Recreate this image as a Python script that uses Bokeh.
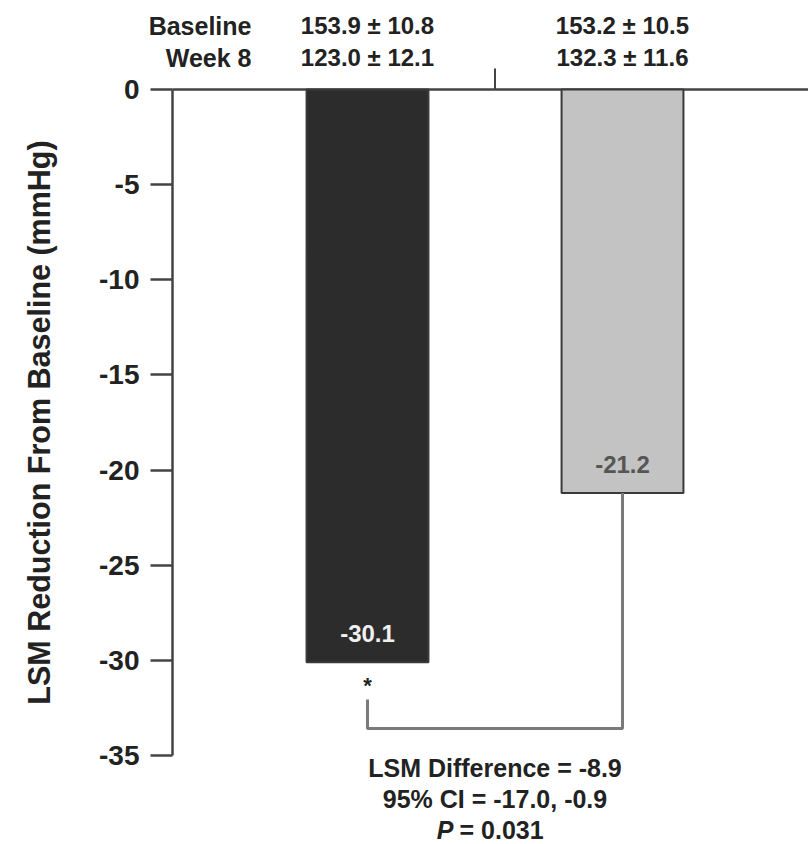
from bokeh.plotting import figure
from bokeh.models import Range1d, FixedTicker, ColumnDataSource, LinearAxis, CustomJSTickFormatter
from bokeh.core.properties import value
from bokeh.embed import file_html
from bokeh.resources import INLINE

# ---- data ----
groups = [1, 2]
changes = [-30.1, -21.2]
bar_colors = ["#2c2c2c", "#c3c3c3"]
label_colors = ["#f0f0f0", "#555555"]
baseline_vals = ["153.9 \u00b1 10.8", "153.2 \u00b1 10.5"]
week8_vals = ["123.0 \u00b1 12.1", "132.3 \u00b1 11.6"]
row_labels = ["Baseline", "Week 8"]
y_ticks = [0, -5, -10, -15, -20, -25, -30, -35]
diff_lines = ["LSM Difference = -8.9", "95% CI = -17.0, -0.9"]
p_value = "0.031"

FONT = value("Liberation Sans")
TXT = "#222222"
AX = "#444444"

x_lo, x_hi = -0.4392, 2.7294
axis_x = 0.2353

p = figure(width=808, height=844, output_backend="svg", toolbar_location=None,
           x_range=Range1d(x_lo, x_hi), y_range=Range1d(-39.674, 4.677),
           x_axis_location=None, y_axis_location=None,
           min_border_left=0, min_border_right=0, min_border_top=0, min_border_bottom=0)
p.outline_line_color = None
p.grid.visible = False
p.background_fill_color = "white"

ya = LinearAxis(fixed_location=axis_x, bounds=(-35, 0),
                ticker=FixedTicker(ticks=y_ticks),
                formatter=CustomJSTickFormatter(code="return tick.toFixed(0);"))
ya.minor_tick_line_color = None
ya.major_tick_in = 0
ya.major_tick_out = 22
ya.major_tick_line_width = 2.5
ya.major_tick_line_color = AX
ya.axis_line_width = 2.5
ya.axis_line_color = AX
ya.major_label_text_font = "Liberation Sans"
ya.major_label_text_font_style = "bold"
ya.major_label_text_font_size = "28px"
ya.major_label_text_color = TXT
ya.major_label_standoff = 11
ya.axis_label = "LSM Reduction From Baseline (mmHg)"
ya.axis_label_text_font = "Liberation Sans"
ya.axis_label_text_font_style = "bold"
ya.axis_label_text_font_size = "30.5px"
ya.axis_label_text_color = TXT
ya.axis_label_standoff = 40
p.add_layout(ya, "left")

# zero line from the axis to the right edge
p.segment(x0=[axis_x], y0=[0], x1=[x_hi], y1=[0], line_color=AX, line_width=2.5)
# separator tick between groups
mid = (groups[0] + groups[1]) / 2
p.segment(x0=[mid], y0=[0], x1=[mid], y1=[1.1], line_color=AX, line_width=2)

src = ColumnDataSource(dict(x=groups, top=[0, 0], bottom=changes, color=bar_colors,
                            lab=[f"{v:.1f}" for v in changes], lab_y=[v + 1.5 for v in changes],
                            lcol=label_colors, b=baseline_vals, w=week8_vals))
p.vbar(x="x", width=0.478, top="top", bottom="bottom", fill_color="color",
       line_color="#3a3a3a", line_width=2, source=src)
p.text(x="x", y="lab_y", text="lab", text_color="lcol", text_font=FONT, text_font_style="bold",
       text_font_size="24px", text_align="center", text_baseline="middle", source=src)

# header rows
y_row1, y_row2 = 3.36, 1.68
p.text(x="x", y=y_row1, text="b", source=src, text_font=FONT, text_font_style="bold",
       text_font_size="24px", text_align="center", text_baseline="middle", text_color=TXT)
p.text(x="x", y=y_row2, text="w", source=src, text_font=FONT, text_font_style="bold",
       text_font_size="24px", text_align="center", text_baseline="middle", text_color=TXT)
p.text(x=[0.545, 0.545], y=[y_row1, y_row2], text=row_labels, text_font=FONT,
       text_font_style="bold", text_font_size="25px", text_align="right",
       text_baseline="middle", text_color=TXT)

# bracket
y_br = -33.58
p.line(x=[groups[0], groups[0], groups[1], groups[1]],
       y=[changes[0] - 1.95, y_br, y_br, changes[1]],
       line_color="#7a7a7a", line_width=3)
p.text(x=[groups[0]], y=[changes[0] - 1.2], text=["*"], text_font=FONT, text_font_style="bold",
       text_font_size="22px", text_align="center", text_baseline="middle", text_color=TXT)

# difference text
p.text(x=[mid, mid], y=[-35.68, -37.3], text=diff_lines, text_font=FONT, text_font_style="bold",
       text_font_size="25px", text_align="center", text_baseline="middle", text_color=TXT)
p.text(x=[1.337], y=[-38.9], text=["P"], text_font=FONT, text_font_style="bold italic",
       text_font_size="25px", text_align="right", text_baseline="middle", text_color=TXT)
p.text(x=[1.361], y=[-38.9], text=["= " + p_value], text_font=FONT, text_font_style="bold",
       text_font_size="25px", text_align="left", text_baseline="middle", text_color=TXT)

open("out.html", "w").write(file_html(p, INLINE))
